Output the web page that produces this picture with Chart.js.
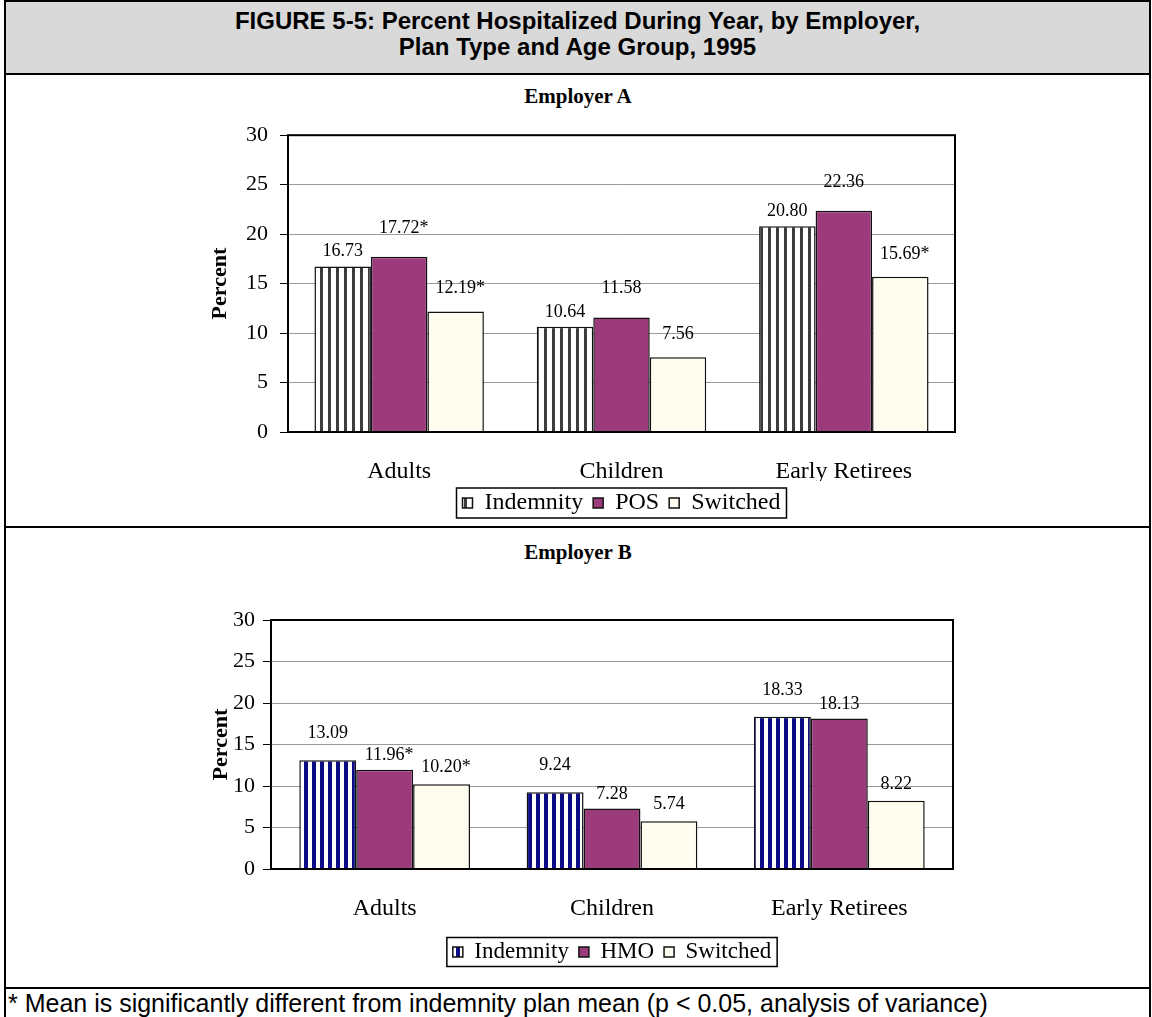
<!DOCTYPE html>
<html lang="en">
<head>
<meta charset="UTF-8">
<title>Figure 5-5: Percent Hospitalized During Year, 1995</title>
<script src="https://cdn.jsdelivr.net/npm/chart.js@4.4.1/dist/chart.umd.min.js"></script>
<style>
  body { margin: 0; background: #fff; width: 1152px; height: 1017px; overflow: hidden; position: relative; }
  .frame { position: absolute; left: 4px; top: 0; width: 1147px; height: 1060px; border: 2px solid #000; box-sizing: border-box; }
  .band { position: absolute; left: 4px; top: 0; width: 1147px; height: 75px; background: #d9d9d9; border: 2px solid #000; box-sizing: border-box;
          font: bold 24px "Liberation Sans", Arial, sans-serif; line-height: 26px; text-align: center; padding-top: 6px; }
  .rule { position: absolute; left: 4px; width: 1147px; height: 2px; background: #000; }
  .sub { position: absolute; left: 0; width: 1152px; text-align: center; font: bold 21px "Liberation Serif", "Times New Roman", serif; }
  .chart { position: absolute; left: 0; }
  .note { position: absolute; left: 8px; top: 989px; font: 25px "Liberation Sans", Arial, sans-serif; line-height: 28px; white-space: nowrap; }
</style>
</head>
<body>
<div class="frame"></div>
<div class="band">FIGURE 5-5: Percent Hospitalized During Year, by Employer,<br>Plan Type and Age Group, 1995</div>
<div class="rule" style="top:526px"></div>
<div class="rule" style="top:987px"></div>
<div class="sub" style="top:84px; padding-left:2px">Employer A</div>
<div class="sub" style="top:540px; padding-left:2px">Employer B</div>
<canvas id="chartA" class="chart" style="top:110px" width="1152" height="415"></canvas>
<canvas id="chartB" class="chart" style="top:595px" width="1152" height="385"></canvas>
<div class="note">* Mean is significantly different from indemnity plan mean (p &lt; 0.05, analysis of variance)</div>

<script>
const ageGroups = ['Adults', 'Children', 'Early Retirees'];
const percentTicks = [0, 5, 10, 15, 20, 25, 30];

// Employer A: indemnity vs point-of-service plan
const indemnityA = [16.73, 10.64, 20.80];
const posA = [17.72, 11.58, 22.36];
const switchedA = [12.19, 7.56, 15.69];
const posSigA = [true, false, false];
const switchedSigA = [true, false, true];

// Employer B: indemnity vs HMO
const indemnityB = [13.09, 9.24, 18.33];
const hmoB = [11.96, 7.28, 18.13];
const switchedB = [10.20, 5.74, 8.22];
const hmoSigB = [true, false, false];
const switchedSigB = [true, false, false];

const SERIF = '"Liberation Serif", "Times New Roman", serif';
const PLUM = '#9c3b7c';
const IVORY = '#fffcf0';

// vertical stripe fill for the indemnity bars
function stripes(ink, period, inkWidth) {
  const c = document.createElement('canvas');
  c.width = period; c.height = 4;
  const g = c.getContext('2d');
  g.fillStyle = '#fff';
  g.fillRect(0, 0, period, 4);
  g.fillStyle = ink;
  g.fillRect(0, 0, inkWidth, 4);
  return g.createPattern(c, 'repeat');
}

// black box round the plot area
const plotFrame = {
  id: 'plotFrame',
  afterDatasetsDraw(chart) {
    const { ctx, chartArea: a } = chart;
    ctx.save();
    ctx.strokeStyle = '#000';
    ctx.lineWidth = 2;
    ctx.strokeRect(a.left, a.top, a.right - a.left, a.bottom - a.top);
    ctx.restore();
  }
};

// value labels above each bar, '*' when significant
const valueLabels = {
  id: 'valueLabels',
  afterDatasetsDraw(chart, args, opts) {
    const { ctx } = chart;
    ctx.save();
    ctx.font = opts.size + 'px ' + SERIF;
    ctx.fillStyle = '#000';
    ctx.textAlign = 'left';
    ctx.textBaseline = 'alphabetic';
    chart.data.datasets.forEach((ds, i) => {
      chart.getDatasetMeta(i).data.forEach((bar, j) => {
        const num = ds.data[j].toFixed(2);
        const star = ds.starred && ds.starred[j] ? '*' : '';
        const w = ctx.measureText(num).width;
        ctx.fillText(num + star, bar.x - w / 2, bar.y - opts.lift[i]);
      });
    });
    ctx.restore();
  }
};

// legend sits centred under the plot with a thin box round it
const legendFrame = {
  id: 'legendFrame',
  afterLayout(chart, args, opts) {
    const lg = chart.legend;
    const lab = lg.options.labels;
    const itemH = Math.max(lab.font.size, lab.boxHeight);
    const w = lg.right - lg.left, h = lg.bottom - lg.top;
    const cx = (chart.chartArea.left + chart.chartArea.right) / 2 + (opts.dx || 0);
    lg.left = cx - w / 2; lg.right = lg.left + w;
    lg.top = opts.y - lab.padding - itemH / 2; lg.bottom = lg.top + h;
  },
  afterDraw(chart, args, opts) {
    const lg = chart.legend;
    const lab = lg.options.labels;
    const p = lab.padding;
    const itemH = Math.max(lab.font.size, lab.boxHeight);
    const lw = lg.lineWidths[0];
    const x0 = (lg.left + p + lg.right - lw) / 2;
    const y0 = lg.top + p;
    const { ctx } = chart;
    ctx.save();
    ctx.strokeStyle = '#000';
    ctx.lineWidth = 1.5;
    ctx.strokeRect(x0 - opts.pad, y0 - opts.padY, lw - p + 2 * opts.pad, itemH + 2 * opts.padY);
    ctx.restore();
  }
};

function buildChart(id, cfg) {
  const H = document.getElementById(id).height;
  return new Chart(document.getElementById(id), {
    type: 'bar',
    data: {
      labels: ageGroups,
      datasets: cfg.series.map(s => ({
        label: s.label,
        data: s.data,
        starred: s.starred,
        backgroundColor: s.fill,
        borderColor: '#111',
        borderWidth: 1.5,
        categoryPercentage: cfg.groupWidth,
        barPercentage: 1
      }))
    },
    options: {
      responsive: false,
      animation: false,
      events: [],
      layout: { padding: { left: 0, right: 1152 - cfg.plotRight, top: cfg.plotTop, bottom: 0 } },
      scales: {
        x: {
          grid: { display: false, drawTicks: false },
          border: { display: false },
          ticks: { color: '#000', padding: 25, maxRotation: 0, font: { family: SERIF, size: 24 } },
          afterFit(s) { s.height = H - s.chart.legend.height - cfg.plotBottom; }
        },
        y: {
          min: percentTicks[0],
          max: percentTicks[percentTicks.length - 1],
          afterBuildTicks(s) { s.ticks = percentTicks.map(v => ({ value: v })); },
          grid: { color: '#9a9a9a', lineWidth: 1, tickColor: '#000', tickLength: 8 },
          border: { display: false },
          ticks: { color: '#000', padding: cfg.tickPad, font: { family: SERIF, size: 22 } },
          title: {
            display: true, text: 'Percent', color: '#000',
            font: { family: SERIF, size: 22, weight: 'bold' },
            padding: { top: cfg.titleX - 13.2, bottom: 0 }
          },
          afterFit(s) { s.width = cfg.plotLeft; }
        }
      },
      plugins: {
        tooltip: { enabled: false },
        legend: {
          position: 'bottom',
          labels: { color: '#000', boxWidth: 10, boxHeight: 10, padding: 10, font: { family: SERIF, size: cfg.legendSize } }
        },
        legendFrame: { y: cfg.legendY, dx: cfg.legendDx, pad: 6, padY: 3 },
        valueLabels: { size: 18, lift: cfg.lift }
      }
    },
    plugins: [plotFrame, valueLabels, legendFrame]
  });
}

buildChart('chartA', {
  plotLeft: 288, plotRight: 955, plotTop: 25, plotBottom: 322,
  groupWidth: 0.762, tickPad: 12, titleX: 220,
  legendY: 393, legendDx: 0, legendSize: 24,
  lift: [10, 24, 18],
  series: [
    { label: 'Indemnity', data: indemnityA, fill: stripes('#3c3c3c', 8, 3) },
    { label: 'POS', data: posA, starred: posSigA, fill: PLUM },
    { label: 'Switched', data: switchedA, starred: switchedSigA, fill: IVORY }
  ]
});

buildChart('chartB', {
  plotLeft: 271, plotRight: 953, plotTop: 25, plotBottom: 274,
  groupWidth: 0.751, tickPad: 8, titleX: 221,
  legendY: 357, legendDx: 0, legendSize: 23,
  lift: [22, 10, 12],
  series: [
    { label: 'Indemnity', data: indemnityB, fill: stripes('#0b0b86', 8, 4) },
    { label: 'HMO', data: hmoB, starred: hmoSigB, fill: PLUM },
    { label: 'Switched', data: switchedB, starred: switchedSigB, fill: IVORY }
  ]
});
</script>
</body>
</html>
